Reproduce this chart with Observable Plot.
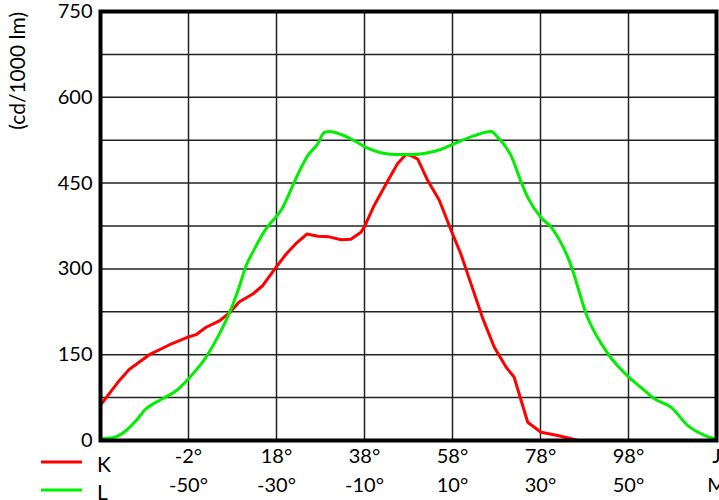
<!DOCTYPE html>
<html><head><meta charset="utf-8">
<script src="https://cdn.jsdelivr.net/npm/d3@7"></script>
<script src="https://cdn.jsdelivr.net/npm/@observablehq/plot@0.6"></script>
<style>body{margin:0;background:#fff}</style>
</head><body><div id="chart"></div>
<script>
// Curve K (angles on the upper scale)
const kAngle = [-22,-21.7,-20,-17.7,-15.5,-10.9,-6.4,-2,-0.3,2,5,7.3,9.5,12.6,14.9,18,20.2,22.4,24.9,27.4,30,32.7,34.9,37.2,38,40.2,43.3,45.5,47.4,48.6,50.1,52.4,55,57.7,59.9,61.8,64.9,67.5,70.2,72,73.6,75.1,78.1,81.9,85.7,86.5];
const kValue = [62,65,82,105,124,150,167,181,185,198,209,223,242,256,271,304,326,344,361,357,356,351,352,364,374,411,454,484,500,498,492,454,420,367,326,283,213,163,128,111,70,32,14.5,8.7,1.7,0];
// Curve L (angles on the lower scale)
const lAngle = [-70,-69.7,-67.2,-64.2,-61.9,-59.7,-55.9,-52.8,-50,-46,-43,-40.7,-38.5,-36.9,-35.4,-32.4,-30,-29,-27.5,-25.6,-22.9,-20.6,-19.1,-18,-15.3,-12.3,-9.3,-6.25,-3.2,1.3,4.4,7.4,10.4,15,18.75,20.3,23.3,25.6,27.1,30.1,32.4,36.5,40.7,45.3,50.2,52.8,55.9,59.7,63.5,67.3,69.6,70];
const lValue = [2,3,5,17,35,55,73,87,108,146,186,223,268,306,329,370,392,402,425,458,498,519,539,540,535,524,511,503,500,500,503,509,519,533,540,530,498,452,425,390,373,315,215,152,110,93,73,58,26,9,3,2];

const kTicks = [-2,18,38,58,78,98,118];
const kTickLabels = ["-2°","18°","38°","58°","78°","98°","J"];
const lTicks = [-50,-30,-10,10,30,50,70];
const lTickLabels = ["-50°","-30°","-10°","10°","30°","50°","M"];
const yTicks = [0,150,300,450,600,750];
const yLabel = "(cd/1000 lm)";
const seriesNames = ["K","L"];
const seriesColors = ["#ff0000","#00ee00"];

const offset = kTicks[0] - lTicks[0];
const K = kAngle.map((a,i)=>({a, v:kValue[i]}));
const L = lAngle.map((a,i)=>({a, v:lValue[i]}));
const xDomain = [kTicks[0]-20, kTicks[kTicks.length-1]];
const gridX = d3.range(xDomain[0], xDomain[1]+1, 20);
const gridY = d3.range(0, 751, 75);
const font = "Lato, 'Open Sans', sans-serif";

const chart = Plot.plot({
  width: 719, height: 500,
  marginLeft: 100, marginRight: 3, marginTop: 11, marginBottom: 60,
  x: {domain: xDomain, axis: null},
  y: {domain: [0, 750], axis: null},
  style: {fontFamily: font, fontSize: "20px", background: "#fff", color: "#000"},
  marks: [
    Plot.ruleX(gridX, {stroke: "#222", strokeWidth: 1.5}),
    Plot.ruleY(gridY, {stroke: "#222", strokeWidth: 1.5}),
    Plot.line(K, {x: "a", y: "v", stroke: seriesColors[0], strokeWidth: 3}),
    Plot.line(L, {x: d => d.a + offset, y: "v", stroke: seriesColors[1], strokeWidth: 3, curve: "monotone-x"}),
    Plot.frame({stroke: "#000", strokeWidth: 4}),
    Plot.axisY(yTicks, {tickSize: 0, tickPadding: 8, fontSize: 20, label: null, tickFormat: d => String(d)}),
    Plot.text(kTicks, {x: d => d, text: (d,i) => kTickLabels[i], frameAnchor: "bottom", dy: 22, fontSize: 20}),
    Plot.text(lTicks, {x: d => d + offset, text: (d,i) => lTickLabels[i], frameAnchor: "bottom", dy: 51, fontSize: 20})
  ]
});
document.getElementById("chart").appendChild(chart);

const svg = d3.select(chart);
svg.append("text")
  .attr("transform", "translate(16,12) rotate(-90)")
  .attr("text-anchor", "end")
  .attr("dominant-baseline", "central")
  .style("font-family", font).style("font-size", "21px").attr("fill", "#000")
  .text(yLabel);
const legendY = [462, 490];
seriesNames.forEach((n,i) => {
  svg.append("line").attr("x1", 41).attr("x2", 82).attr("y1", legendY[i]).attr("y2", legendY[i])
    .attr("stroke", seriesColors[i]).attr("stroke-width", 3);
  svg.append("text").attr("x", 97).attr("y", legendY[i] + 1).attr("dominant-baseline", "central")
    .attr("text-anchor", "start")
    .style("font-family", font).style("font-size", "21px").attr("fill", "#000").text(n);
});
</script>
</body></html>
